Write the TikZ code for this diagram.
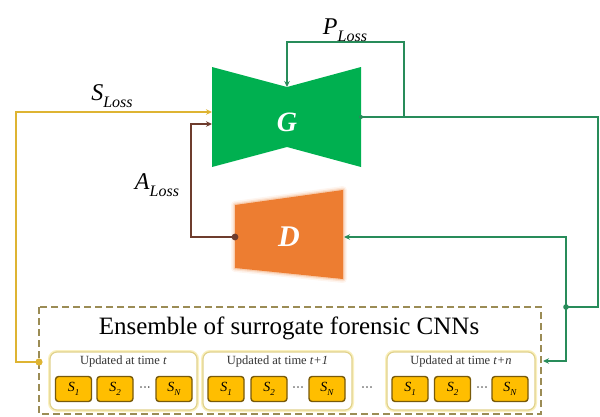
\documentclass[tikz,border=0pt]{standalone}
\usepackage{fontspec}
\setmainfont{Liberation Serif}
\usetikzlibrary{arrows.meta}
\definecolor{gfill}{RGB}{0,176,80}
\definecolor{dfill}{RGB}{237,125,49}
\definecolor{glow}{RGB}{246,190,150}
\definecolor{gline}{RGB}{40,140,90}
\definecolor{yline}{RGB}{222,180,50}
\definecolor{bline}{RGB}{110,60,45}
\definecolor{sfill}{RGB}{255,190,0}
\definecolor{sdraw}{RGB}{120,90,10}
\definecolor{dashc}{RGB}{155,140,85}
\definecolor{gbdraw}{RGB}{225,210,140}
\definecolor{gbglow}{RGB}{250,240,190}
\tikzset{
  conn/.style={line width=1.7pt, line join=miter},
  tipS/.style={-{Stealth[length=6pt,width=5.5pt]}},
  sbox/.style={draw=sdraw, fill=sfill, line width=1.4pt, rounded corners=3pt,
    minimum width=36pt, minimum height=25pt, inner sep=0pt, font=\fontsize{14}{14}\selectfont},
  gbox/.style={draw=gbdraw, fill=white, line width=1.2pt, rounded corners=7pt,
    preaction={draw=gbglow, line width=4pt}, minimum height=58pt, inner sep=0pt},
  upd/.style={font=\fontsize{12.5}{13}\selectfont, text=black!80},
  lossl/.style={font=\fontsize{24}{24}\selectfont, inner sep=0pt},
  dotsl/.style={font=\fontsize{12}{12}\selectfont, inner sep=0pt}
}
\newcommand{\lossname}[1]{\textit{#1}\raisebox{-0.3em}{\fontsize{16}{16}\selectfont\textit{Loss}}}
\newcommand{\sname}[1]{\textit{S}\raisebox{-0.25em}{\fontsize{9}{9}\selectfont\textit{#1}}}
\newcommand{\cdt}{\textperiodcentered\textperiodcentered\textperiodcentered}
\begin{document}
\begin{tikzpicture}[x=1pt,y=-1pt]
\useasboundingbox (0,0) rectangle (600,416);
% Generator
\fill[gfill] (212,67) -- (287,87) -- (361,67) -- (361,167) -- (287,147) -- (212,167) -- cycle;
\node[text=white, font=\fontsize{28}{28}\selectfont\bfseries\itshape] (G) at (287,122) {G};
% Discriminator with glow
\foreach \w/\o in {8/0.15,5/0.3,2.5/0.6}
  \draw[glow, line width=\w pt, opacity=\o, line join=round] (235,205) -- (343,190) -- (343,279) -- (235,268) -- cycle;
\fill[dfill] (235,205) -- (343,190) -- (343,279) -- (235,268) -- cycle;
\node[text=white, font=\fontsize{30}{30}\selectfont\bfseries\itshape] (D) at (289,237) {D};
% Ensemble dashed box
\draw[dashc, line width=1.6pt, dash pattern=on 7pt off 4pt] (39,307) rectangle (541,414);
\node[font=\fontsize{25}{25}\selectfont] (title) at (289,328) {Ensemble of surrogate forensic CNNs};
% Group boxes
\node[gbox, minimum width=147pt] (B1) at (123.5,381) {};
\node[gbox, minimum width=149pt] (B2) at (277.5,381) {};
\node[gbox, minimum width=148pt] (B3) at (461,381) {};
\node[upd] (u1) at (123.5,361) {Updated at time \textit{t}};
\node[upd] (u2) at (277.5,361) {Updated at time \textit{t+1}};
\node[upd] (u3) at (461,361) {Updated at time \textit{t+n}};
% S boxes
\node[sbox] (a1) at (73.5,389) {\sname{1}};
\node[sbox] (a2) at (115,389) {\sname{2}};
\node[dotsl] (ad) at (145,389) {\cdt};
\node[sbox] (aN) at (174,389) {\sname{N}};
\node[sbox] (b1) at (226,389) {\sname{1}};
\node[sbox] (b2) at (269,389) {\sname{2}};
\node[dotsl] (bd) at (298,389) {\cdt};
\node[sbox] (bN) at (327,389) {\sname{N}};
\node[dotsl] (md) at (367,389) {\cdt};
\node[sbox] (c1) at (410,389) {\sname{1}};
\node[sbox] (c2) at (452.5,389) {\sname{2}};
\node[dotsl] (cd) at (482,389) {\cdt};
\node[sbox] (cN) at (510,389) {\sname{N}};
% anchor points
\coordinate (Gs) at (212,112);
\coordinate (Ga) at (212,124);
\coordinate (Gout) at (361,117);
\coordinate (Gtop) at (287,87);
\coordinate (Ptap) at (404,117);
\coordinate (Dl) at (235,237);
\coordinate (Dr) at (344,237);
\coordinate (Ebl) at (39,362);
\coordinate (Ebr) at (543,361);
\coordinate (J) at (566,307);
% connectors
\draw[conn, yline, tipS] (Ebl) -| (16,112) -- (Gs);
\fill[yline] (Ebl) circle (3.6pt);
\draw[conn, bline, tipS] (Dl) -| (191,124) -- (Ga);
\fill[bline] (Dl) circle (3.4pt);
\draw[conn, gline, tipS] (Ptap) |- (287,42) -- (Gtop);
\draw[conn, gline] (Gout) -| (598,307) -- (J);
\fill[gline] (Gout) circle (2pt);
\draw[conn, gline, tipS] (J) |- (Dr);
\draw[conn, gline, tipS] (J) |- (Ebr);
\fill[gline] (J) circle (2.8pt);
% loss labels
\node[lossl] (PL) at (345,30) {\lossname{P}};
\node[lossl] (SL) at (112,96) {\lossname{S}};
\node[lossl] (AL) at (157,185) {\lossname{A}};
\end{tikzpicture}
\end{document}
